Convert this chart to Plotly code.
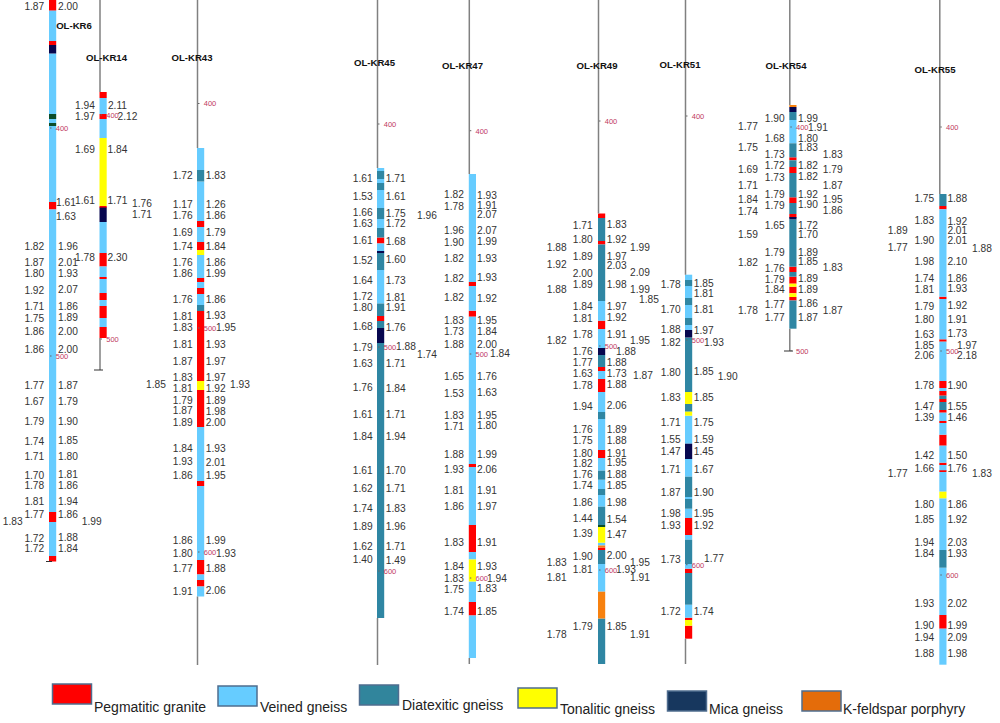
import plotly.graph_objects as go

ROCK_COLORS = {
    "P": "#ff0000",
    "V": "#66ccff",
    "D": "#2f86a3",
    "T": "#ffff00",
    "M": "#07074f",
    "K": "#f7810f",
    "G": "#0b4d2a",
}

LEGEND_NAMES = ["Pegmatitic granite", "Veined gneiss", "Diatexitic gneiss", "Tonalitic gneiss", "Mica gneiss", "K-feldspar porphyry"]
LEGEND_COLORS = ["#ff0000", "#66ccff", "#31859c", "#ffff00", "#17375e", "#e46c0a"]
LEGEND_BOX_X = [72, 237.5, 379, 537.5, 687, 821.5]
LEGEND_BOX_Y = [684, 686, 685, 688, 691, 691]
LEGEND_TEXT_X = [94, 260, 402, 560, 709, 843]
LEGEND_TEXT_Y = [708, 708, 706.5, 710, 710, 710]

# boundaries of the logged intervals and the rock of each interval
KR6_DEPTHS = [0, 10.7, 41, 45, 53.5, 114, 119, 123, 126, 202, 209.5, 512, 522, 556, 561.5]
KR6_ROCKS = ["P", "V", "P", "M", "V", "G", "V", "G", "V", "P", "V", "P", "V", "P"]
KR14_DEPTHS = [92, 98, 114, 119, 138, 206, 207.5, 222, 253, 266.5, 277, 279, 293, 300, 306, 318, 327, 338]
KR14_ROCKS = ["P", "V", "P", "V", "T", "P", "M", "V", "P", "V", "P", "V", "P", "V", "P", "V", "P"]
KR43_DEPTHS = [148, 170, 181.5, 221, 227, 242, 250, 255, 278, 282, 288, 294, 305, 311, 381, 390, 427, 481, 486, 560, 574.5, 580, 586.5, 596.5]
KR43_ROCKS = ["V", "D", "V", "P", "V", "P", "T", "V", "P", "V", "P", "V", "D", "P", "T", "P", "V", "P", "V", "P", "V", "P", "V"]
KR45_DEPTHS = [168, 171, 179, 183, 190, 208, 219, 228, 237.5, 243.5, 251, 253, 270, 303.5, 316, 321, 328, 343, 618]
KR45_ROCKS = ["V", "D", "V", "D", "V", "D", "V", "D", "P", "V", "M", "D", "V", "D", "P", "D", "M", "D"]
KR47_DEPTHS = [174, 282, 286, 310.7, 316.7, 464, 467, 525, 552, 559.5, 581.5, 602, 615.5, 658]
KR47_ROCKS = ["V", "P", "V", "P", "V", "P", "V", "P", "V", "T", "V", "P", "V"]
KR49_DEPTHS = [213.5, 218, 241, 244.5, 301, 320.7, 329, 348, 355, 367, 371, 379, 392, 412, 419, 450, 458, 470.7, 479.7, 489, 495, 506.7, 525, 527, 542.7, 545.5, 547.5, 550, 564, 591.7, 618.5, 664]
KR49_ROCKS = ["P", "D", "P", "D", "V", "P", "V", "M", "D", "P", "V", "P", "V", "D", "V", "P", "V", "D", "V", "D", "V", "D", "G", "T", "V", "K", "P", "D", "V", "K", "D"]
KR51_DEPTHS = [274.7, 280, 286, 298, 305, 318, 325, 330, 337.5, 392, 404, 411.7, 415.7, 443.7, 459, 476.7, 497, 499, 508.7, 518, 535, 539.7, 564, 568.7, 573, 604.7, 617.7, 620, 625.7, 638.7]
KR51_ROCKS = ["V", "D", "V", "D", "V", "D", "V", "M", "D", "T", "D", "T", "V", "M", "V", "D", "V", "D", "V", "P", "V", "D", "V", "P", "D", "V", "P", "T", "P"]
KR54_DEPTHS = [105, 107, 112, 120, 143.3, 157.3, 160.3, 167, 173, 197.3, 203, 214, 217.7, 219.3, 266.7, 272, 276.7, 283.7, 286.7, 293.3, 297, 300.5, 328.7]
KR54_ROCKS = ["K", "M", "D", "V", "D", "P", "D", "P", "D", "P", "D", "P", "M", "D", "P", "D", "P", "T", "P", "T", "P", "D"]
KR55_DEPTHS = [194, 206, 209.3, 296.7, 299, 339.3, 341.7, 381, 388, 391, 395.7, 399, 402, 410, 412.7, 421, 423, 434.7, 445.7, 462.7, 465, 470.3, 472, 491.7, 498.3, 550, 567.7, 615, 628.7, 664.7]
KR55_ROCKS = ["D", "P", "V", "P", "V", "P", "V", "P", "V", "P", "D", "P", "D", "P", "V", "P", "V", "P", "V", "P", "V", "P", "V", "T", "V", "D", "V", "P", "V"]

# (density, depth) readings beside each hole
KR6_LEFT = [(1.87, 7), (1.82, 247), (1.87, 263), (1.80, 274), (1.92, 291), (1.71, 307), (1.75, 319), (1.86, 332), (1.86, 350), (1.77, 386), (1.67, 402.5), (1.79, 422), (1.74, 442), (1.71, 457.5), (1.70, 476), (1.78, 486.5), (1.81, 502.5), (1.77, 515.5), (1.72, 539), (1.72, 549)]
KR6_RIGHT = [(2.00, 7), (1.96, 247), (2.01, 263), (1.93, 274), (2.07, 290), (1.86, 307), (1.89, 318), (2.00, 332), (2.00, 350), (1.87, 386), (1.79, 402.5), (1.90, 422), (1.85, 441.5), (1.80, 457), (1.81, 475), (1.86, 486), (1.94, 502), (1.86, 515), (1.88, 538), (1.84, 549)]
KR6_EXTRA = [(1.61, 66, 203), (1.63, 66, 217), (1.83, 12.7, 522), (1.99, 91.7, 522)]

KR14_LEFT = [(1.94, 106), (1.97, 117), (1.69, 150), (1.61, 201), (1.78, 258)]
KR14_RIGHT = [(2.11, 106), (1.84, 150), (1.71, 201), (2.30, 258)]
KR14_EXTRA = [(2.12, 127.5, 117), (1.76, 142, 204), (1.71, 142, 215)]

KR43_LEFT = [(1.72, 176), (1.17, 205), (1.76, 216), (1.69, 233), (1.74, 247), (1.76, 263), (1.86, 274), (1.76, 300), (1.81, 317), (1.83, 328), (1.81, 345), (1.87, 362), (1.83, 378), (1.81, 389), (1.79, 401), (1.87, 411.5), (1.89, 423), (1.84, 449), (1.93, 462.5), (1.86, 476), (1.86, 541), (1.80, 554), (1.77, 569), (1.91, 592)]
KR43_RIGHT = [(1.83, 176), (1.26, 205), (1.86, 216), (1.79, 233), (1.84, 247), (1.86, 263), (1.99, 274), (1.86, 300), (1.93, 316.5), (1.93, 345), (1.97, 362), (1.97, 378), (1.92, 389), (1.89, 401), (1.98, 412), (2.00, 423), (1.93, 449), (2.01, 463), (1.95, 476), (1.99, 541), (1.88, 569), (2.06, 591)]
KR43_EXTRA = [(1.95, 226, 328), (1.93, 226, 554), (1.85, 156, 385), (1.93, 240, 385)]

KR45_LEFT = [(1.61, 179), (1.53, 197), (1.66, 213.5), (1.63, 224.5), (1.61, 241.5), (1.52, 261), (1.64, 281), (1.72, 297.5), (1.80, 308.5), (1.68, 327.5), (1.79, 348), (1.63, 364), (1.76, 388), (1.61, 415), (1.84, 437), (1.61, 471), (1.62, 489), (1.74, 509), (1.89, 527), (1.62, 547), (1.40, 560)]
KR45_RIGHT = [(1.71, 179), (1.61, 197), (1.75, 214), (1.72, 224.5), (1.68, 242.5), (1.60, 260.5), (1.73, 281), (1.81, 298), (1.91, 308.5), (1.76, 328), (1.71, 364.5), (1.84, 389), (1.71, 415), (1.94, 437.5), (1.70, 471), (1.71, 489), (1.83, 509), (1.96, 527), (1.71, 547), (1.49, 561)]
KR45_EXTRA = [(1.88, 406, 347.5), (1.96, 427, 216), (1.74, 427, 355)]

KR47_LEFT = [(1.82, 195.5), (1.78, 207), (1.96, 231.5), (1.90, 243), (1.82, 259), (1.82, 279), (1.82, 298.5), (1.83, 321), (1.73, 332), (1.88, 345.5), (1.65, 377), (1.53, 394), (1.83, 416), (1.71, 427), (1.88, 455), (1.93, 470.5), (1.81, 491), (1.86, 507), (1.83, 543), (1.84, 567), (1.83, 579), (1.75, 590), (1.74, 612)]
KR47_RIGHT = [(1.93, 196), (1.91, 206), (2.07, 215), (2.07, 231), (1.99, 242.5), (1.93, 259), (1.93, 278), (1.92, 299), (1.95, 321), (1.84, 332), (2.00, 345), (1.76, 377), (1.63, 393.5), (1.95, 416), (1.80, 426.5), (1.99, 455.5), (2.06, 470.5), (1.91, 491), (1.97, 507), (1.91, 543), (1.93, 567), (1.83, 589), (1.85, 612)]
KR47_EXTRA = [(1.84, 500, 354.5), (1.94, 497, 579.5)]

KR49_LEFT = [(1.71, 226), (1.80, 240.5), (1.89, 257), (2.00, 274), (1.89, 285.5), (1.84, 307.5), (1.81, 319), (1.78, 335), (1.76, 352.5), (1.77, 363.5), (1.63, 374), (1.78, 386), (1.94, 407), (1.76, 430), (1.75, 441), (1.80, 454), (1.82, 464), (1.76, 475), (1.74, 486.5), (1.86, 503), (1.44, 519.5), (1.39, 534.5), (1.90, 557), (1.81, 570), (1.79, 627.5)]
KR49_RIGHT = [(1.83, 225), (1.92, 240), (1.97, 257), (2.03, 266), (1.98, 285), (1.97, 307), (1.92, 318.5), (1.91, 335.5), (1.88, 363), (1.73, 374.5), (1.88, 385.5), (2.06, 406.5), (1.89, 430), (1.88, 441.5), (1.91, 454), (1.95, 463.5), (1.88, 475), (1.85, 486.5), (1.98, 503), (1.54, 520), (1.47, 535), (2.00, 556.5), (1.85, 627.5)]
KR49_EXTRA = [(1.88, 626, 352), (1.93, 626, 570), (1.88, 556.7, 248), (1.92, 556.7, 265.5), (1.88, 556.7, 290), (1.82, 556.7, 341.5), (1.83, 556.7, 563.5), (1.81, 556.7, 578.5), (1.78, 556.7, 635.5), (1.99, 640, 248), (2.09, 640, 273.5), (1.99, 640, 290), (1.85, 649, 300), (1.95, 640, 341.5), (1.87, 643, 376.5), (1.95, 640, 563), (1.91, 640, 578.5), (1.91, 640, 635)]

KR51_LEFT = [(1.78, 285.5), (1.70, 310), (1.88, 330.5), (1.82, 343), (1.80, 373), (1.83, 398), (1.71, 423.5), (1.55, 440), (1.47, 452.5), (1.71, 470.5), (1.87, 493), (1.98, 514.5), (1.93, 526.5), (1.73, 560), (1.72, 612)]
KR51_RIGHT = [(1.85, 284.5), (1.81, 294), (1.81, 310), (1.97, 331), (1.85, 372), (1.85, 398), (1.75, 423.5), (1.59, 440), (1.45, 452.5), (1.67, 470.5), (1.90, 493), (1.95, 514), (1.92, 526.5), (1.74, 612)]
KR51_EXTRA = [(1.93, 714, 343), (1.77, 714, 559), (1.90, 727.7, 377)]

KR54_LEFT = [(1.90, 119), (1.68, 139.5), (1.73, 155), (1.72, 166), (1.73, 178), (1.79, 195), (1.79, 206), (1.65, 226), (1.79, 253.5), (1.76, 269), (1.79, 280), (1.84, 290.5), (1.77, 305), (1.77, 318)]
KR54_RIGHT = [(1.99, 119), (1.80, 139), (1.83, 148), (1.82, 166), (1.82, 177.5), (1.92, 195), (1.90, 205.5), (1.72, 226), (1.70, 235), (1.89, 253), (1.85, 262), (1.89, 279.5), (1.89, 290), (1.86, 304.5), (1.87, 318)]
KR54_EXTRA = [(1.91, 818, 128), (1.77, 748, 127.5), (1.75, 748, 148), (1.69, 748, 170), (1.71, 748, 186), (1.84, 748, 200.5), (1.74, 748, 212), (1.59, 748, 235.5), (1.82, 748, 263), (1.78, 748, 311), (1.83, 832.7, 155), (1.79, 832.7, 170.5), (1.87, 832.7, 186), (1.95, 832.7, 200.5), (1.86, 832.7, 211.5), (1.83, 832.7, 268.5), (1.87, 832.7, 311)]

KR55_LEFT = [(1.75, 199.5), (1.83, 221.5), (1.90, 241), (1.98, 262), (1.74, 279), (1.81, 290), (1.79, 307), (1.80, 320), (1.63, 335), (1.85, 346), (2.06, 356), (1.78, 386), (1.47, 407), (1.39, 418.5), (1.42, 456), (1.66, 469), (1.80, 505), (1.85, 520.5), (1.94, 543), (1.84, 554.5), (1.93, 604.5), (1.90, 626), (1.94, 638), (1.88, 654)]
KR55_RIGHT = [(1.88, 199), (1.92, 222), (2.01, 231), (2.01, 241), (2.10, 262), (1.86, 279), (1.93, 289.5), (1.92, 306.5), (1.91, 320), (1.73, 334.5), (1.90, 386), (1.55, 407), (1.46, 418), (1.50, 456), (1.76, 469.5), (1.86, 505), (1.92, 520.5), (2.03, 543), (1.93, 554), (2.02, 604.5), (1.99, 626), (2.09, 638), (1.98, 654)]
KR55_EXTRA = [(1.97, 967, 346), (2.18, 967, 356), (1.89, 897.7, 231), (1.77, 897.7, 248.5), (1.77, 897.7, 474), (1.88, 982, 249), (1.83, 982, 474.5)]

# borehole depth marks: (label, depth)
KR6_MARKS = [("400", 129), ("500", 357)]
KR14_MARKS = [("400", 116), ("500", 340)]
KR43_MARKS = [("400", 104.5), ("500", 329), ("600", 553)]
KR45_MARKS = [("400", 125), ("500", 348), ("600", 572)]
KR47_MARKS = [("400", 131.7), ("500", 355), ("600", 579)]
KR49_MARKS = [("400", 122), ("500", 347), ("600", 571)]
KR51_MARKS = [("400", 117), ("500", 341), ("600", 565.7)]
KR54_MARKS = [("400", 128), ("500", 351.7)]
KR55_MARKS = [("400", 128), ("500", 352), ("600", 576)]

HOLE_NAMES = ["OL-KR6", "OL-KR14", "OL-KR43", "OL-KR45", "OL-KR47", "OL-KR49", "OL-KR51", "OL-KR54", "OL-KR55"]
HOLE_X = [49, 99.5, 197, 377, 468.8, 598, 685, 789.3, 939.3]
TITLE_X = [74, 106.5, 192, 374.5, 462.5, 597, 680, 786, 935]
TITLE_Y = [27, 59, 59, 63.5, 67, 67, 66, 67, 71]
LEFT_X = [34.3, 85, 182.7, 362.7, 454, 582.7, 670.7, 774.7, 924.3]
RIGHT_X = [68, 117.5, 215.7, 395.7, 487, 616.7, 703.7, 808, 957.3]
HOLE_END = [561.5, 370, 665, 665, 664, 664, 664, 351, 664]

DEPTHS = [KR6_DEPTHS, KR14_DEPTHS, KR43_DEPTHS, KR45_DEPTHS, KR47_DEPTHS, KR49_DEPTHS, KR51_DEPTHS, KR54_DEPTHS, KR55_DEPTHS]
ROCKS = [KR6_ROCKS, KR14_ROCKS, KR43_ROCKS, KR45_ROCKS, KR47_ROCKS, KR49_ROCKS, KR51_ROCKS, KR54_ROCKS, KR55_ROCKS]
LEFTS = [KR6_LEFT, KR14_LEFT, KR43_LEFT, KR45_LEFT, KR47_LEFT, KR49_LEFT, KR51_LEFT, KR54_LEFT, KR55_LEFT]
RIGHTS = [KR6_RIGHT, KR14_RIGHT, KR43_RIGHT, KR45_RIGHT, KR47_RIGHT, KR49_RIGHT, KR51_RIGHT, KR54_RIGHT, KR55_RIGHT]
EXTRAS = [KR6_EXTRA, KR14_EXTRA, KR43_EXTRA, KR45_EXTRA, KR47_EXTRA, KR49_EXTRA, KR51_EXTRA, KR54_EXTRA, KR55_EXTRA]
MARKS = [KR6_MARKS, KR14_MARKS, KR43_MARKS, KR45_MARKS, KR47_MARKS, KR49_MARKS, KR51_MARKS, KR54_MARKS, KR55_MARKS]

BAR_WIDTH = 7.2
FONT = "Liberation Sans, Arial"

fig = go.Figure()

# one bar trace per rock type, all holes together
for rock, color in ROCK_COLORS.items():
    xs, bases, heights = [], [], []
    for hole_x, depths, rocks in zip(HOLE_X, DEPTHS, ROCKS):
        for i, code in enumerate(rocks):
            if code == rock:
                xs.append(hole_x + BAR_WIDTH / 2)
                bases.append(depths[i])
                heights.append(depths[i + 1] - depths[i])
    fig.add_trace(go.Bar(x=xs, y=heights, base=bases, width=BAR_WIDTH, marker={"color": color, "line": {"width": 0}}))

# legend boxes
for color, box_x, box_y in zip(LEGEND_COLORS, LEGEND_BOX_X, LEGEND_BOX_Y):
    fig.add_trace(go.Bar(x=[box_x], y=[20], base=[box_y], width=39, marker={"color": color, "line": {"color": "#4f6d8f", "width": 1.5}}))

# grey hole lines above and below the logged part
line_x, line_y = [], []
for i, hole_x in enumerate(HOLE_X):
    if i == 0:
        continue
    line_x += [hole_x + 0.5, hole_x + 0.5, None]
    line_y += [0, DEPTHS[i][0], None]
    if HOLE_END[i] > DEPTHS[i][-1] + 1:
        line_x += [hole_x + 0.5, hole_x + 0.5, None]
        line_y += [DEPTHS[i][-1], HOLE_END[i], None]
fig.add_trace(go.Scatter(x=line_x, y=line_y, mode="lines", line={"color": "#808080", "width": 1.5}))

# small end ticks
fig.add_trace(go.Scatter(
    x=[46, 52, None, 94, 103, None, 784, 793],
    y=[561.5, 561.5, None, 370, 370, None, 351, 351],
    mode="lines",
    line={"color": "#333333", "width": 1},
))

# depth ticks on the holes
tick_x, tick_y = [], []
for hole_x, marks in zip(HOLE_X, MARKS):
    for _, depth in marks:
        tick_x += [hole_x + 1, hole_x + 2.5, None]
        tick_y += [depth - 1, depth - 1, None]
fig.add_trace(go.Scatter(x=tick_x, y=tick_y, mode="lines", line={"color": "#666666", "width": 1}))

# density readings
num_x, num_y, num_text = [], [], []
for left_x, right_x, lefts, rights, extras in zip(LEFT_X, RIGHT_X, LEFTS, RIGHTS, EXTRAS):
    for value, depth in lefts:
        num_x.append(left_x)
        num_y.append(depth)
        num_text.append(f"{value:.2f}")
    for value, depth in rights:
        num_x.append(right_x)
        num_y.append(depth)
        num_text.append(f"{value:.2f}")
    for value, x, depth in extras:
        num_x.append(x)
        num_y.append(depth)
        num_text.append(f"{value:.2f}")
fig.add_trace(go.Scatter(
    x=num_x,
    y=num_y,
    text=num_text,
    mode="text",
    textposition="middle center",
    textfont={"family": FONT, "size": 10.2, "color": "#333333"},
))

# red depth labels
mark_x, mark_y, mark_text = [], [], []
for hole_x, marks in zip(HOLE_X, MARKS):
    for label, depth in marks:
        mark_x.append(hole_x + 13)
        mark_y.append(depth)
        mark_text.append(label)
fig.add_trace(go.Scatter(
    x=mark_x,
    y=mark_y,
    text=mark_text,
    mode="text",
    textposition="middle center",
    textfont={"family": FONT, "size": 7.5, "color": "#c0395f"},
))

# hole names
fig.add_trace(go.Scatter(
    x=TITLE_X,
    y=TITLE_Y,
    text=[f"<b>{name}</b>" for name in HOLE_NAMES],
    mode="text",
    textposition="middle center",
    textfont={"family": FONT, "size": 9.6, "color": "#111111"},
))

# legend text
fig.add_trace(go.Scatter(
    x=LEGEND_TEXT_X,
    y=LEGEND_TEXT_Y,
    text=LEGEND_NAMES,
    mode="text",
    textposition="middle right",
    textfont={"family": FONT, "size": 14, "color": "#222222"},
))

fig.update_layout(
    width=1000,
    height=723,
    margin={"l": 0, "r": 0, "t": 0, "b": 0},
    paper_bgcolor="white",
    plot_bgcolor="white",
    barmode="overlay",
    showlegend=False,
    xaxis={"range": [0, 1000], "visible": False, "fixedrange": True},
    yaxis={"range": [723, 0], "visible": False, "fixedrange": True},
)

fig.write_html("out.html", config={"displayModeBar": False}, post_script="document.body.style.margin='0';")
